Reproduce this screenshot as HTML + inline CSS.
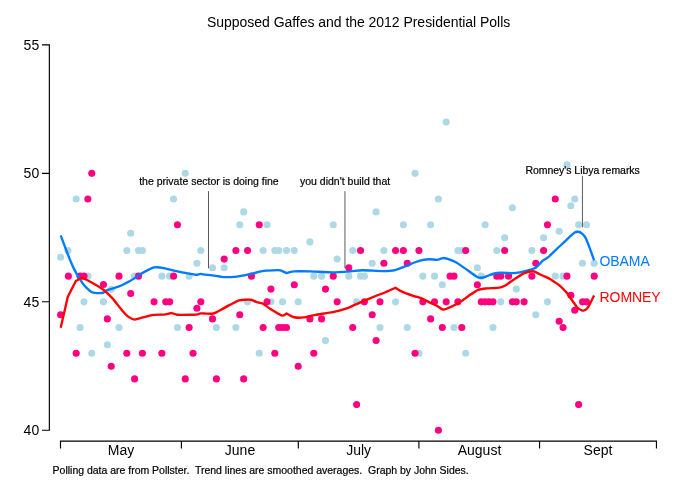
<!DOCTYPE html>
<html lang="en">
<head>
<meta charset="utf-8">
<title>Supposed Gaffes and the 2012 Presidential Polls</title>
<style>
html,body{margin:0;padding:0;background:#fff;}
body{width:680px;height:494px;overflow:hidden;}
svg{display:block;}
text{font-family:"Liberation Sans",sans-serif;fill:#000;}
.ax{font-size:14px;}
.an{font-size:10.5px;stroke:#000;stroke-width:0.2px;}
.ft{font-size:10.5px;stroke:#000;stroke-width:0.2px;}
.ti{font-size:14px;}
</style>
</head>
<body>
<svg width="680" height="494" viewBox="0 0 680 494">
<rect width="680" height="494" fill="#fff"/>

<g fill="#ADD8E6">
<circle cx="60.60" cy="257.20" r="3.55"/>
<circle cx="67.94" cy="250.45" r="3.55"/>
<circle cx="76.18" cy="199.06" r="3.55"/>
<circle cx="80.08" cy="327.53" r="3.55"/>
<circle cx="83.97" cy="301.84" r="3.55"/>
<circle cx="87.87" cy="276.14" r="3.55"/>
<circle cx="91.76" cy="353.22" r="3.55"/>
<circle cx="103.44" cy="301.84" r="3.55"/>
<circle cx="107.34" cy="344.70" r="3.55"/>
<circle cx="111.23" cy="289.30" r="3.55"/>
<circle cx="119.03" cy="327.53" r="3.55"/>
<circle cx="126.81" cy="250.45" r="3.55"/>
<circle cx="130.71" cy="233.30" r="3.55"/>
<circle cx="134.60" cy="276.14" r="3.55"/>
<circle cx="138.50" cy="250.45" r="3.55"/>
<circle cx="142.40" cy="250.45" r="3.55"/>
<circle cx="161.87" cy="276.14" r="3.55"/>
<circle cx="169.66" cy="276.14" r="3.55"/>
<circle cx="173.56" cy="199.06" r="3.55"/>
<circle cx="177.45" cy="327.53" r="3.55"/>
<circle cx="185.24" cy="173.37" r="3.55"/>
<circle cx="189.13" cy="276.14" r="3.55"/>
<circle cx="196.92" cy="263.30" r="3.55"/>
<circle cx="200.82" cy="250.45" r="3.55"/>
<circle cx="212.50" cy="267.70" r="3.55"/>
<circle cx="216.40" cy="327.53" r="3.55"/>
<circle cx="224.19" cy="267.70" r="3.55"/>
<circle cx="235.88" cy="327.53" r="3.55"/>
<circle cx="239.77" cy="224.76" r="3.55"/>
<circle cx="243.66" cy="211.90" r="3.55"/>
<circle cx="247.56" cy="301.84" r="3.55"/>
<circle cx="259.25" cy="353.22" r="3.55"/>
<circle cx="263.14" cy="250.45" r="3.55"/>
<circle cx="267.04" cy="224.76" r="3.55"/>
<circle cx="270.93" cy="301.84" r="3.55"/>
<circle cx="274.82" cy="250.45" r="3.55"/>
<circle cx="278.72" cy="250.45" r="3.55"/>
<circle cx="282.62" cy="301.84" r="3.55"/>
<circle cx="286.51" cy="250.45" r="3.55"/>
<circle cx="294.30" cy="250.45" r="3.55"/>
<circle cx="298.19" cy="301.84" r="3.55"/>
<circle cx="309.88" cy="241.90" r="3.55"/>
<circle cx="313.78" cy="276.14" r="3.55"/>
<circle cx="321.56" cy="276.14" r="3.55"/>
<circle cx="325.46" cy="340.50" r="3.55"/>
<circle cx="333.25" cy="224.76" r="3.55"/>
<circle cx="337.15" cy="259.10" r="3.55"/>
<circle cx="348.83" cy="276.14" r="3.55"/>
<circle cx="352.73" cy="250.45" r="3.55"/>
<circle cx="356.62" cy="301.84" r="3.55"/>
<circle cx="360.52" cy="276.14" r="3.55"/>
<circle cx="364.41" cy="276.14" r="3.55"/>
<circle cx="372.20" cy="263.30" r="3.55"/>
<circle cx="376.10" cy="211.90" r="3.55"/>
<circle cx="379.99" cy="327.53" r="3.55"/>
<circle cx="383.89" cy="250.45" r="3.55"/>
<circle cx="395.57" cy="301.84" r="3.55"/>
<circle cx="403.36" cy="224.76" r="3.55"/>
<circle cx="407.26" cy="327.53" r="3.55"/>
<circle cx="415.05" cy="173.37" r="3.55"/>
<circle cx="418.94" cy="353.22" r="3.55"/>
<circle cx="422.84" cy="276.14" r="3.55"/>
<circle cx="430.62" cy="224.76" r="3.55"/>
<circle cx="434.52" cy="276.14" r="3.55"/>
<circle cx="438.42" cy="199.06" r="3.55"/>
<circle cx="442.31" cy="284.70" r="3.55"/>
<circle cx="446.21" cy="121.98" r="3.55"/>
<circle cx="454.00" cy="327.53" r="3.55"/>
<circle cx="457.89" cy="250.45" r="3.55"/>
<circle cx="461.79" cy="250.45" r="3.55"/>
<circle cx="465.68" cy="353.22" r="3.55"/>
<circle cx="477.37" cy="267.70" r="3.55"/>
<circle cx="481.26" cy="276.14" r="3.55"/>
<circle cx="485.16" cy="224.76" r="3.55"/>
<circle cx="492.95" cy="327.53" r="3.55"/>
<circle cx="496.84" cy="250.45" r="3.55"/>
<circle cx="500.74" cy="301.84" r="3.55"/>
<circle cx="504.63" cy="237.70" r="3.55"/>
<circle cx="512.42" cy="207.70" r="3.55"/>
<circle cx="516.31" cy="289.10" r="3.55"/>
<circle cx="531.89" cy="250.45" r="3.55"/>
<circle cx="535.79" cy="314.70" r="3.55"/>
<circle cx="543.58" cy="237.70" r="3.55"/>
<circle cx="547.48" cy="301.84" r="3.55"/>
<circle cx="555.26" cy="276.14" r="3.55"/>
<circle cx="559.16" cy="231.30" r="3.55"/>
<circle cx="563.05" cy="276.14" r="3.55"/>
<circle cx="566.95" cy="164.90" r="3.55"/>
<circle cx="570.85" cy="205.70" r="3.55"/>
<circle cx="574.74" cy="199.06" r="3.55"/>
<circle cx="578.63" cy="224.76" r="3.55"/>
<circle cx="582.53" cy="263.30" r="3.55"/>
<circle cx="586.43" cy="224.76" r="3.55"/>
<circle cx="594.22" cy="263.30" r="3.55"/>
</g>
<g fill="#FF0080">
<circle cx="60.60" cy="314.70" r="3.55"/>
<circle cx="68.39" cy="276.14" r="3.55"/>
<circle cx="76.18" cy="353.22" r="3.55"/>
<circle cx="80.08" cy="276.14" r="3.55"/>
<circle cx="83.97" cy="276.14" r="3.55"/>
<circle cx="87.87" cy="199.06" r="3.55"/>
<circle cx="91.76" cy="173.37" r="3.55"/>
<circle cx="103.44" cy="284.50" r="3.55"/>
<circle cx="107.34" cy="318.90" r="3.55"/>
<circle cx="111.23" cy="366.30" r="3.55"/>
<circle cx="119.03" cy="276.14" r="3.55"/>
<circle cx="126.81" cy="353.22" r="3.55"/>
<circle cx="130.71" cy="293.50" r="3.55"/>
<circle cx="134.60" cy="378.91" r="3.55"/>
<circle cx="138.50" cy="276.14" r="3.55"/>
<circle cx="142.40" cy="353.22" r="3.55"/>
<circle cx="154.08" cy="301.84" r="3.55"/>
<circle cx="161.87" cy="353.22" r="3.55"/>
<circle cx="165.77" cy="301.84" r="3.55"/>
<circle cx="169.66" cy="301.84" r="3.55"/>
<circle cx="173.56" cy="276.14" r="3.55"/>
<circle cx="177.45" cy="224.76" r="3.55"/>
<circle cx="185.24" cy="378.91" r="3.55"/>
<circle cx="189.13" cy="327.53" r="3.55"/>
<circle cx="193.03" cy="353.22" r="3.55"/>
<circle cx="196.92" cy="308.30" r="3.55"/>
<circle cx="200.82" cy="301.84" r="3.55"/>
<circle cx="212.50" cy="318.90" r="3.55"/>
<circle cx="216.40" cy="378.91" r="3.55"/>
<circle cx="224.19" cy="259.10" r="3.55"/>
<circle cx="235.88" cy="250.45" r="3.55"/>
<circle cx="239.77" cy="314.70" r="3.55"/>
<circle cx="243.66" cy="378.91" r="3.55"/>
<circle cx="247.56" cy="250.45" r="3.55"/>
<circle cx="251.45" cy="276.14" r="3.55"/>
<circle cx="259.25" cy="224.76" r="3.55"/>
<circle cx="263.14" cy="327.53" r="3.55"/>
<circle cx="267.04" cy="301.84" r="3.55"/>
<circle cx="270.93" cy="289.10" r="3.55"/>
<circle cx="274.82" cy="353.22" r="3.55"/>
<circle cx="278.72" cy="327.53" r="3.55"/>
<circle cx="282.62" cy="327.53" r="3.55"/>
<circle cx="286.51" cy="327.53" r="3.55"/>
<circle cx="294.30" cy="284.70" r="3.55"/>
<circle cx="298.19" cy="366.30" r="3.55"/>
<circle cx="309.88" cy="318.90" r="3.55"/>
<circle cx="313.78" cy="353.22" r="3.55"/>
<circle cx="321.56" cy="318.90" r="3.55"/>
<circle cx="325.46" cy="289.10" r="3.55"/>
<circle cx="333.25" cy="276.14" r="3.55"/>
<circle cx="337.15" cy="301.84" r="3.55"/>
<circle cx="348.83" cy="267.70" r="3.55"/>
<circle cx="352.73" cy="327.53" r="3.55"/>
<circle cx="356.62" cy="404.61" r="3.55"/>
<circle cx="360.52" cy="250.45" r="3.55"/>
<circle cx="364.41" cy="301.84" r="3.55"/>
<circle cx="372.20" cy="314.70" r="3.55"/>
<circle cx="376.10" cy="340.50" r="3.55"/>
<circle cx="379.99" cy="301.84" r="3.55"/>
<circle cx="383.89" cy="263.30" r="3.55"/>
<circle cx="395.57" cy="250.45" r="3.55"/>
<circle cx="403.36" cy="250.45" r="3.55"/>
<circle cx="407.26" cy="263.30" r="3.55"/>
<circle cx="415.05" cy="353.22" r="3.55"/>
<circle cx="418.94" cy="250.45" r="3.55"/>
<circle cx="422.84" cy="301.84" r="3.55"/>
<circle cx="430.62" cy="318.90" r="3.55"/>
<circle cx="434.52" cy="301.84" r="3.55"/>
<circle cx="438.42" cy="430.30" r="3.55"/>
<circle cx="442.31" cy="327.53" r="3.55"/>
<circle cx="446.21" cy="301.84" r="3.55"/>
<circle cx="450.10" cy="276.14" r="3.55"/>
<circle cx="454.00" cy="276.14" r="3.55"/>
<circle cx="457.89" cy="301.84" r="3.55"/>
<circle cx="461.79" cy="327.53" r="3.55"/>
<circle cx="465.68" cy="250.45" r="3.55"/>
<circle cx="477.37" cy="284.70" r="3.55"/>
<circle cx="481.26" cy="301.84" r="3.55"/>
<circle cx="485.16" cy="301.84" r="3.55"/>
<circle cx="489.05" cy="301.84" r="3.55"/>
<circle cx="492.95" cy="301.84" r="3.55"/>
<circle cx="496.84" cy="276.14" r="3.55"/>
<circle cx="500.74" cy="276.14" r="3.55"/>
<circle cx="504.63" cy="250.45" r="3.55"/>
<circle cx="508.53" cy="276.14" r="3.55"/>
<circle cx="512.42" cy="301.84" r="3.55"/>
<circle cx="516.31" cy="301.84" r="3.55"/>
<circle cx="524.11" cy="301.84" r="3.55"/>
<circle cx="531.89" cy="276.14" r="3.55"/>
<circle cx="535.79" cy="263.30" r="3.55"/>
<circle cx="543.58" cy="250.45" r="3.55"/>
<circle cx="547.48" cy="224.76" r="3.55"/>
<circle cx="555.26" cy="199.06" r="3.55"/>
<circle cx="559.16" cy="321.30" r="3.55"/>
<circle cx="563.05" cy="327.53" r="3.55"/>
<circle cx="566.95" cy="276.14" r="3.55"/>
<circle cx="570.85" cy="295.30" r="3.55"/>
<circle cx="574.74" cy="310.30" r="3.55"/>
<circle cx="578.63" cy="404.61" r="3.55"/>
<circle cx="582.53" cy="301.84" r="3.55"/>
<circle cx="586.43" cy="301.84" r="3.55"/>
<circle cx="594.22" cy="276.14" r="3.55"/>
</g>
<g stroke="#000" stroke-width="0.65" fill="none">
<line x1="208.5" y1="191.2" x2="208.5" y2="268.3"/>
<line x1="344.95" y1="191.2" x2="344.95" y2="268.3"/>
<line x1="582.45" y1="175.8" x2="582.45" y2="227.3"/>
</g>
<path d="M60.70,235.45C61.15,236.65 64.31,245.10 65.20,247.45C66.09,249.80 68.89,257.18 69.60,258.95C70.31,260.72 71.78,264.01 72.30,265.15C72.82,266.29 74.31,269.38 74.80,270.35C75.29,271.32 76.73,274.03 77.20,274.85C77.67,275.67 78.99,277.75 79.50,278.55C80.01,279.35 81.71,282.04 82.30,282.85C82.89,283.66 84.50,285.74 85.40,286.65C86.30,287.56 90.14,291.31 91.30,291.95C92.46,292.59 95.82,292.97 97.00,293.05C98.18,293.13 102.14,293.02 103.10,292.75C104.06,292.48 105.07,290.96 106.60,290.35C108.13,289.74 116.06,287.59 118.40,286.65C120.74,285.71 128.24,281.90 130.00,280.95C131.76,280.00 134.82,277.91 136.00,277.15C137.18,276.39 139.99,274.32 141.80,273.35C143.61,272.38 151.87,267.98 154.10,267.45C156.33,266.92 162.04,267.70 164.10,268.05C166.16,268.40 172.35,270.42 174.70,270.95C177.05,271.48 185.48,272.97 187.60,273.35C189.72,273.73 194.60,274.69 195.90,274.75C197.20,274.81 199.69,273.97 200.60,273.95C201.51,273.93 203.62,274.38 205.00,274.55C206.38,274.72 212.52,275.40 214.40,275.65C216.28,275.90 221.80,276.93 223.80,277.05C225.80,277.17 232.40,277.01 234.40,276.85C236.40,276.69 241.92,275.80 243.80,275.45C245.68,275.10 251.20,273.80 253.20,273.35C255.20,272.90 261.33,271.27 263.80,270.95C266.27,270.63 276.23,270.20 277.90,270.15C279.57,270.10 279.64,270.16 280.50,270.45C281.36,270.74 284.50,272.18 286.50,273.05C289.03,272.48 291.81,271.52 294.10,271.35C296.39,271.18 305.52,271.25 309.40,271.35C313.28,271.45 328.78,272.35 332.90,272.35C337.02,272.35 347.68,271.56 350.60,271.35C353.52,271.14 358.84,270.28 362.10,270.25C365.36,270.22 379.91,271.07 383.20,271.05C386.49,271.03 392.64,270.58 395.00,270.05C397.36,269.52 404.92,266.48 406.80,265.75C408.68,265.02 412.16,263.34 413.80,262.75C415.44,262.16 421.58,260.20 423.20,259.85C424.82,259.50 428.61,259.25 430.00,259.25C431.39,259.25 435.81,259.97 437.10,259.85C438.39,259.73 441.85,258.14 442.90,258.05C443.95,257.96 446.30,258.53 447.60,258.95C448.90,259.37 454.13,261.28 455.90,262.25C457.67,263.22 463.18,267.18 465.30,268.65C467.42,270.12 475.45,276.04 477.10,276.95C478.75,277.86 480.86,277.81 481.80,277.75C482.74,277.69 485.33,276.75 486.50,276.35C487.67,275.95 492.09,274.11 493.50,273.75C494.91,273.39 498.95,272.82 500.60,272.75C502.25,272.68 508.62,273.02 510.00,273.05C511.38,273.08 512.90,273.25 514.40,273.05C515.90,272.85 522.92,271.56 525.00,271.05C527.08,270.54 533.42,268.99 535.20,267.95C536.98,266.91 541.53,261.70 542.80,260.65C544.07,259.60 546.21,258.89 547.90,257.45C549.59,256.01 557.58,248.25 559.70,246.25C561.82,244.25 567.64,238.80 569.10,237.45C570.56,236.10 573.39,233.32 574.30,232.75C575.21,232.18 577.45,231.69 578.20,231.75C578.95,231.81 581.09,232.78 581.80,233.35C582.51,233.92 584.60,236.22 585.30,237.45C586.00,238.68 587.92,243.36 588.80,245.65C589.68,247.94 593.57,258.88 594.10,260.35" fill="none" stroke="#007AFF" stroke-width="2.35" stroke-linecap="butt" stroke-linejoin="round"/>
<path d="M60.70,327.75C61.41,324.65 65.43,307.08 67.80,296.75C70.53,291.42 73.27,286.08 76.00,280.75C77.97,279.88 80.61,278.13 81.90,278.15C83.19,278.17 86.78,279.81 88.90,280.95C91.02,282.09 100.74,287.81 103.10,289.55C105.46,291.29 110.62,296.29 112.50,298.35C114.38,300.41 120.26,308.27 121.90,310.15C123.54,312.03 127.62,316.21 128.90,317.15C130.18,318.09 133.65,319.43 134.70,319.55C135.75,319.67 137.52,318.82 139.40,318.35C141.28,317.88 151.03,315.23 153.50,314.85C155.97,314.47 162.27,314.73 164.10,314.55C165.93,314.37 170.50,313.03 171.80,313.05C173.10,313.07 175.16,314.58 177.10,314.75C179.04,314.92 189.31,314.76 191.20,314.75C193.09,314.74 195.04,314.79 196.00,314.65C196.96,314.51 199.80,313.46 200.80,313.35C201.80,313.24 204.87,313.51 206.00,313.55C207.13,313.59 211.02,313.89 212.10,313.75C213.18,313.61 215.39,312.84 216.80,312.15C218.21,311.46 223.97,308.03 226.20,306.85C228.43,305.67 236.63,301.06 239.10,300.35C241.57,299.64 249.13,299.57 250.90,299.75C252.67,299.93 255.63,301.77 256.80,302.15C257.97,302.53 261.19,302.84 262.60,303.55C264.01,304.26 268.94,308.04 270.90,309.25C272.86,310.46 280.64,315.22 282.20,315.65C283.76,316.08 285.07,314.25 286.50,313.55C289.03,314.78 292.40,316.86 294.10,317.25C295.80,317.64 301.38,317.69 303.50,317.45C305.62,317.21 312.36,315.38 315.30,314.85C318.24,314.32 329.84,312.77 332.90,312.15C335.96,311.53 343.66,309.40 345.90,308.65C348.14,307.90 352.27,305.94 355.30,304.65C358.33,303.36 373.29,296.94 376.20,295.75C379.11,294.56 382.48,293.55 384.40,292.75C386.32,291.95 391.73,289.42 395.40,287.75C397.63,289.05 400.26,290.82 402.10,291.65C403.94,292.48 411.92,295.41 413.80,296.05C415.68,296.69 419.28,297.39 420.90,298.05C422.52,298.71 428.38,301.86 430.00,302.65C431.62,303.44 435.92,305.31 437.10,305.95C438.28,306.59 440.98,308.72 441.80,309.05C442.62,309.38 443.66,309.82 445.30,309.25C446.94,308.68 455.85,304.70 458.20,303.35C460.55,302.00 466.80,297.10 468.80,295.75C470.80,294.40 476.43,290.58 478.20,289.85C479.97,289.12 484.38,288.68 486.50,288.45C488.62,288.22 497.52,287.85 499.40,287.55C501.28,287.25 503.80,286.28 505.30,285.45C506.80,284.62 512.55,280.46 514.40,279.25C516.25,278.04 521.92,274.15 523.80,273.35C525.68,272.55 531.67,271.19 533.20,271.25C534.73,271.31 537.80,273.36 539.10,273.95C540.40,274.54 545.11,276.65 546.20,277.15C547.29,277.65 548.68,278.12 550.00,278.95C551.32,279.78 557.75,284.09 559.40,285.45C561.05,286.81 565.20,291.02 566.50,292.55C567.80,294.08 571.34,299.28 572.40,300.75C573.46,302.22 576.16,306.29 577.10,307.25C578.04,308.21 580.98,310.08 581.80,310.35C582.62,310.62 584.60,310.38 585.30,309.95C586.00,309.52 587.92,307.50 588.80,306.05C589.68,304.60 593.57,296.51 594.10,295.45" fill="none" stroke="#FF0000" stroke-width="2.35" stroke-linecap="butt" stroke-linejoin="round"/>
<g stroke="#000" stroke-width="1.15" fill="none">
<path d="M42,44.85H49.35V430.25H42M42,173.3H49.35M42,301.7H49.35"/>
<path d="M60.5,448.5V441.1H656.45V448.5M181.4,441.1V448.5M298.3,441.1V448.5M418.9,441.1V448.5M539.55,441.1V448.5"/>
</g>
<text class="ax" x="39.2" y="49.5" text-anchor="end">55</text>
<text class="ax" x="39.2" y="178.0" text-anchor="end">50</text>
<text class="ax" x="39.2" y="306.5" text-anchor="end">45</text>
<text class="ax" x="39.2" y="435.0" text-anchor="end">40</text>
<text class="ax" x="121.0" y="454.6" text-anchor="middle">May</text>
<text class="ax" x="240.0" y="454.6" text-anchor="middle">June</text>
<text class="ax" x="358.6" y="454.6" text-anchor="middle">July</text>
<text class="ax" x="479.5" y="454.6" text-anchor="middle">August</text>
<text class="ax" x="598.0" y="454.6" text-anchor="middle">Sept</text>
<text class="ti" x="207.05" y="26.7" textLength="303.2">Supposed Gaffes and the 2012 Presidential Polls</text>
<text class="an" x="139.2" y="185">the private sector is doing fine</text>
<text class="an" x="300" y="185">you didn't build that</text>
<text class="an" x="525.4" y="174.2" textLength="114.4">Romney's Libya remarks</text>
<text class="ft" x="52.6" y="474" textLength="416.1" xml:space="preserve" style="white-space:pre">Polling data are from Pollster.  Trend lines are smoothed averages.  Graph by John Sides.</text>
<text class="ax" x="599.4" y="266" textLength="50.4" style="fill:#007AFF">OBAMA</text>
<text class="ax" x="599.5" y="302" textLength="61.2" style="fill:#FF0000">ROMNEY</text>
</svg>
</body>
</html>
